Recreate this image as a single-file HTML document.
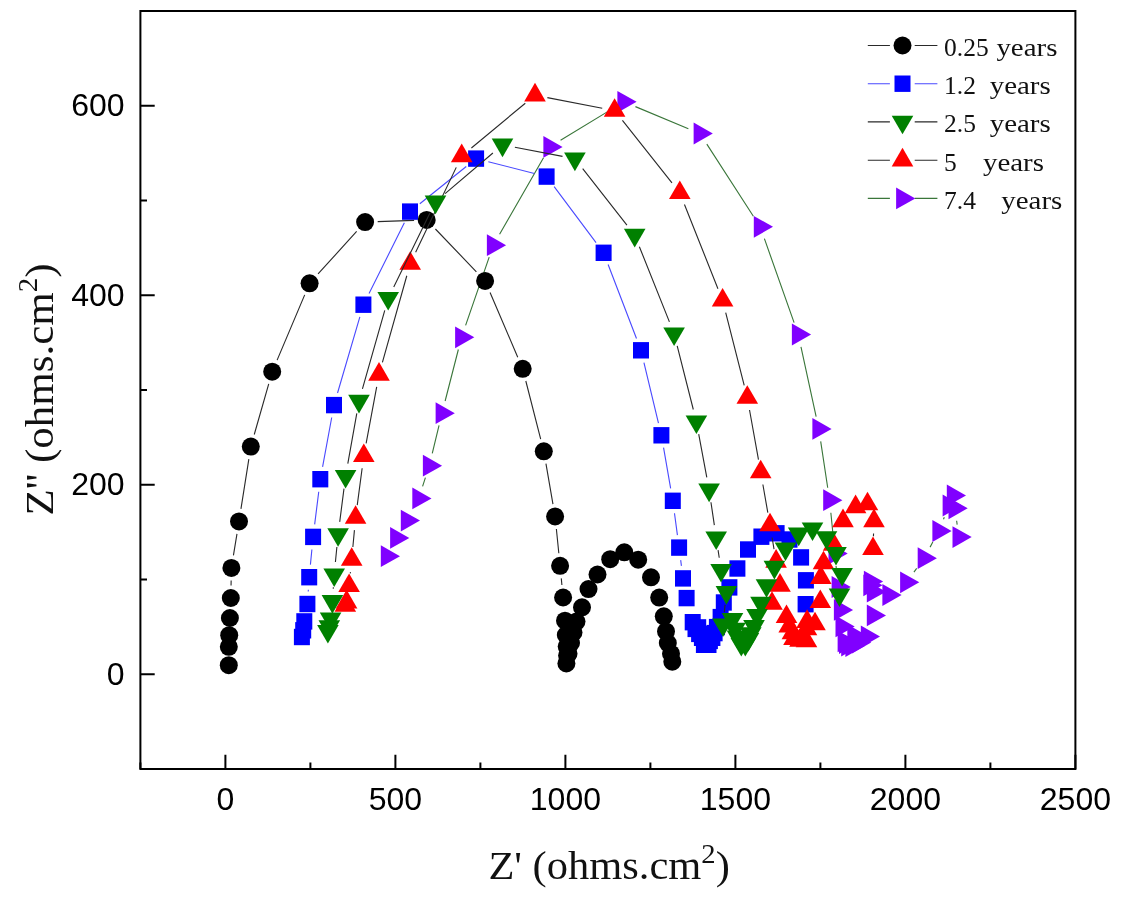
<!DOCTYPE html>
<html lang="en">
<head>
<meta charset="utf-8">
<title>Nyquist plot</title>
<style>
html,body{margin:0;padding:0;background:#fff;}
body{width:1126px;height:898px;overflow:hidden;}
svg{display:block;will-change:transform;}
.tk{font-family:"Liberation Sans",Arial,sans-serif;font-size:32px;fill:#000;}
.lg{font-family:"Liberation Serif","DejaVu Serif",serif;font-size:25.5px;fill:#111;}
.al{font-family:"Liberation Serif","DejaVu Serif",serif;font-size:40px;fill:#111;}
</style>
</head>
<body>
<svg width="1126" height="898" viewBox="0 0 1126 898">
<rect width="1126" height="898" fill="#fff"/>
<path fill="none" stroke-width="1.12" stroke="#3a763a" d="M422.59 486.41L425.41 477.69M432.26 453.45L439.04 425.45M445.14 401L458.36 349.5M465.61 325.39L489.19 257.11M499.58 234.28L543.52 157.82M560.56 140.34L613.04 108.36M635.43 106.64L688.37 128.66M706.83 144.09L753.37 216.21M764.4 238.68L794.1 322.62M800.97 346.81L816.13 416.59M820.69 441.36L827.71 487.74M830.85 512.74L833.65 540.96M836.06 566.05L836.84 574.45M913.93 572.12L916.67 568.38M930.09 547.12L932.81 542.08M943.48 519.3L944.32 517.2M956.63 520.78L957.17 524.62"/>
<g fill="#8000ff">
<polygon points="380.8,545.3 380.8,567.1 400,556.2"/><polygon points="390.1,527 390.1,548.8 409.3,537.9"/><polygon points="400.8,509.7 400.8,531.5 420,520.6"/><polygon points="412.3,487.5 412.3,509.3 431.5,498.4"/><polygon points="422.9,454.8 422.9,476.6 442.1,465.7"/><polygon points="435.6,402.3 435.6,424.1 454.8,413.2"/><polygon points="455.1,326.4 455.1,348.2 474.3,337.3"/><polygon points="486.9,234.3 486.9,256.1 506.1,245.2"/><polygon points="543.4,136 543.4,157.8 562.6,146.9"/><polygon points="617.4,90.9 617.4,112.7 636.6,101.8"/><polygon points="693.6,122.6 693.6,144.4 712.8,133.5"/><polygon points="753.8,215.9 753.8,237.7 773,226.8"/><polygon points="791.9,323.6 791.9,345.4 811.1,334.5"/><polygon points="812.4,418 812.4,439.8 831.6,428.9"/><polygon points="823.2,489.3 823.2,511.1 842.4,500.2"/><polygon points="828.5,542.6 828.5,564.4 847.7,553.5"/><polygon points="831.6,576.1 831.6,597.9 850.8,587"/><polygon points="833.9,599 833.9,620.8 853.1,609.9"/><polygon points="835.5,615.5 835.5,637.3 854.7,626.4"/><polygon points="837.6,630.5 837.6,652.3 856.8,641.4"/><polygon points="839,632.2 839,654 858.2,643.1"/><polygon points="841.2,634.6 841.2,656.4 860.4,645.5"/><polygon points="845.4,635.2 845.4,657 864.6,646.1"/><polygon points="847.3,624.3 847.3,646.1 866.5,635.2"/><polygon points="852,631.6 852,653.4 871.2,642.5"/><polygon points="860.8,625.6 860.8,647.4 880,636.5"/><polygon points="866.8,604.5 866.8,626.3 886,615.4"/><polygon points="866.8,580.8 866.8,602.6 886,591.7"/><polygon points="863.3,574.4 863.3,596.2 882.5,585.3"/><polygon points="863.9,570.7 863.9,592.5 883.1,581.6"/><polygon points="882.4,584.1 882.4,605.9 901.6,595"/><polygon points="900.1,571.4 900.1,593.2 919.3,582.3"/><polygon points="917.7,547.3 917.7,569.1 936.9,558.2"/><polygon points="932.4,520.1 932.4,541.9 951.6,531"/><polygon points="942.6,494.6 942.6,516.4 961.8,505.5"/><polygon points="946.8,484.5 946.8,506.3 966,495.4"/><polygon points="948.5,497.4 948.5,519.2 967.7,508.3"/><polygon points="952.5,526.2 952.5,548 971.7,537.1"/>
</g>
<path fill="none" stroke-width="1.12" stroke="#2a2a2a" d="M231.05 585.4L231.15 580.5M233.43 555.46L236.97 533.84M240.96 508.95L248.84 459.05M254.26 434.48L268.74 383.82M277.11 360.1L304.69 294.9M318.06 273.97L356.64 231.43M377.69 221.65L414.11 220.35M435.41 229L476.39 271.8M490.06 292.48L517.74 357.22M525.82 381.01L540.68 439.09M545.95 463.71L552.95 504.09M556.37 529.04L558.83 553.26M561.29 578.34L561.91 584.96"/>
<g fill="#000000">
<circle cx="228.8" cy="665.2" r="9"/><circle cx="228.8" cy="646.8" r="9"/><circle cx="229.2" cy="635.2" r="9"/><circle cx="229.9" cy="618" r="9"/><circle cx="230.8" cy="598" r="9"/><circle cx="231.4" cy="567.9" r="9"/><circle cx="239" cy="521.4" r="9"/><circle cx="250.8" cy="446.6" r="9"/><circle cx="272.2" cy="371.7" r="9"/><circle cx="309.6" cy="283.3" r="9"/><circle cx="365.1" cy="222.1" r="9"/><circle cx="426.7" cy="219.9" r="9"/><circle cx="485.1" cy="280.9" r="9"/><circle cx="522.7" cy="368.8" r="9"/><circle cx="543.8" cy="451.3" r="9"/><circle cx="555.1" cy="516.5" r="9"/><circle cx="560.1" cy="565.8" r="9"/><circle cx="563.1" cy="597.5" r="9"/><circle cx="565" cy="620.7" r="9"/><circle cx="565.8" cy="635" r="9"/><circle cx="566.7" cy="646.6" r="9"/><circle cx="567.1" cy="655.5" r="9"/><circle cx="566.4" cy="663.5" r="9"/><circle cx="568.5" cy="653.7" r="9"/><circle cx="571" cy="643" r="9"/><circle cx="573.5" cy="632.5" r="9"/><circle cx="576.5" cy="621.6" r="9"/><circle cx="582" cy="607.3" r="9"/><circle cx="588.5" cy="589.1" r="9"/><circle cx="597.5" cy="574.5" r="9"/><circle cx="610.2" cy="559.2" r="9"/><circle cx="624.3" cy="552.3" r="9"/><circle cx="638.2" cy="559.7" r="9"/><circle cx="651" cy="577.3" r="9"/><circle cx="659.2" cy="597.6" r="9"/><circle cx="663.8" cy="616.3" r="9"/><circle cx="666" cy="631.4" r="9"/><circle cx="667.8" cy="643" r="9"/><circle cx="671" cy="653.7" r="9"/><circle cx="672.3" cy="661.7" r="9"/>
</g>
<path fill="none" stroke-width="1.12" stroke="#4a4aff" d="M308.24 591.43L308.36 589.77M310.41 564.66L311.89 549.44M314.66 524.4L318.74 491.7M322.59 466.81L331.71 417.49M337.54 393.01L359.86 316.79M369.04 293.43L404.36 222.87M419.83 203.72L466.27 166.48M488.31 161.72L534.39 173.48M554.15 186.69L596.05 242.71M608.11 264.56L636.49 338.54M643.94 362.55L658.46 423.05M663.56 447.71L670.64 488.39M674.48 513.29L677.42 535.11M680.68 560.1L681.42 565.9"/>
<g fill="#0000ff">
<rect x="293.9" y="628.8" width="16" height="16.4"/><rect x="295.2" y="622.1" width="16" height="16.4"/><rect x="296.3" y="613.2" width="16" height="16.4"/><rect x="299.4" y="595.8" width="16" height="16.4"/><rect x="301.2" y="569" width="16" height="16.4"/><rect x="305.1" y="528.7" width="16" height="16.4"/><rect x="312.3" y="471" width="16" height="16.4"/><rect x="326" y="396.9" width="16" height="16.4"/><rect x="355.4" y="296.5" width="16" height="16.4"/><rect x="402" y="203.4" width="16" height="16.4"/><rect x="468.1" y="150.4" width="16" height="16.4"/><rect x="538.6" y="168.4" width="16" height="16.4"/><rect x="595.6" y="244.6" width="16" height="16.4"/><rect x="633" y="342.1" width="16" height="16.4"/><rect x="653.4" y="427.1" width="16" height="16.4"/><rect x="664.8" y="492.6" width="16" height="16.4"/><rect x="671.1" y="539.4" width="16" height="16.4"/><rect x="675" y="570.2" width="16" height="16.4"/><rect x="678.6" y="589.9" width="16" height="16.4"/><rect x="684.7" y="614" width="16" height="16.4"/><rect x="687.5" y="620.7" width="16" height="16.4"/><rect x="690.2" y="619.2" width="16" height="16.4"/><rect x="691.1" y="625.7" width="16" height="16.4"/><rect x="693.9" y="629.6" width="16" height="16.4"/><rect x="695.9" y="636.6" width="16" height="16.4"/><rect x="700.5" y="636.6" width="16" height="16.4"/><rect x="701.9" y="632.7" width="16" height="16.4"/><rect x="704.4" y="629.6" width="16" height="16.4"/><rect x="706.6" y="624.9" width="16" height="16.4"/><rect x="708.9" y="618.9" width="16" height="16.4"/><rect x="712.6" y="608.9" width="16" height="16.4"/><rect x="715.8" y="594.3" width="16" height="16.4"/><rect x="721.4" y="579.2" width="16" height="16.4"/><rect x="729.4" y="560.3" width="16" height="16.4"/><rect x="740" y="541.3" width="16" height="16.4"/><rect x="753.4" y="528.5" width="16" height="16.4"/><rect x="768.6" y="525.1" width="16" height="16.4"/><rect x="781.5" y="531.3" width="16" height="16.4"/><rect x="793.1" y="549.2" width="16" height="16.4"/><rect x="797.9" y="572.1" width="16" height="16.4"/><rect x="797.6" y="596" width="16" height="16.4"/>
</g>
<path fill="none" stroke-width="1.12" stroke="#2a2a2a" d="M350.34 573.36L350.46 572.14M352.86 547.05L354.44 530.15M357.26 505.11L362.14 468.29M366.12 443.41L376.68 386.89M382.41 362.37L406.79 275.73M415.64 252.23L456.26 167.37M471.4 147.96L525.3 103.24M547.37 97.59L602.23 108.21M622.43 120.47L671.97 182.93M684.46 204.51L717.94 288.69M725.7 312.61L744.2 385.39M749.53 410L758.47 459.7M762.88 484.51L767.82 512.69M772.08 537.53L774.02 549.07M873.55 533.59L873.45 536.21"/>
<g fill="#ff0000">
<polygon points="334.5,611.7 356.1,611.7 345.3,593.1"/><polygon points="335.8,608.4 357.4,608.4 346.6,589.8"/><polygon points="338.3,592.1 359.9,592.1 349.1,573.5"/><polygon points="340.9,565.8 362.5,565.8 351.7,547.2"/><polygon points="344.8,523.8 366.4,523.8 355.6,505.2"/><polygon points="353,462 374.6,462 363.8,443.4"/><polygon points="368.2,380.7 389.8,380.7 379,362.1"/><polygon points="399.4,269.8 421,269.8 410.2,251.2"/><polygon points="450.9,162.2 472.5,162.2 461.7,143.6"/><polygon points="524.2,101.4 545.8,101.4 535,82.8"/><polygon points="603.8,116.8 625.4,116.8 614.6,98.2"/><polygon points="669,199 690.6,199 679.8,180.4"/><polygon points="711.8,306.6 733.4,306.6 722.6,288"/><polygon points="736.5,403.8 758.1,403.8 747.3,385.2"/><polygon points="749.9,478.3 771.5,478.3 760.7,459.7"/><polygon points="759.2,531.3 780.8,531.3 770,512.7"/><polygon points="765.3,567.7 786.9,567.7 776.1,549.1"/><polygon points="769.2,591.7 790.8,591.7 780,573.1"/><polygon points="761.2,609.8 782.8,609.8 772,591.2"/><polygon points="775.7,623.1 797.3,623.1 786.5,604.5"/><polygon points="778.4,632.5 800,632.5 789.2,613.9"/><polygon points="781.6,639.3 803.2,639.3 792.4,620.7"/><polygon points="783.2,644.9 804.8,644.9 794,626.3"/><polygon points="789.2,646.8 810.8,646.8 800,628.2"/><polygon points="795.7,647.3 817.3,647.3 806.5,628.7"/><polygon points="795.7,635.3 817.3,635.3 806.5,616.7"/><polygon points="796.3,627.9 817.9,627.9 807.1,609.3"/><polygon points="804.2,630.3 825.8,630.3 815,611.7"/><polygon points="809.5,608 831.1,608 820.3,589.4"/><polygon points="810,583.9 831.6,583.9 820.8,565.3"/><polygon points="812.7,569.3 834.3,569.3 823.5,550.7"/><polygon points="822.8,550.8 844.4,550.8 833.6,532.2"/><polygon points="832.2,527.2 853.8,527.2 843,508.6"/><polygon points="844.8,513.2 866.4,513.2 855.6,494.6"/><polygon points="856.7,510.3 878.3,510.3 867.5,491.7"/><polygon points="863.2,527.2 884.8,527.2 874,508.6"/><polygon points="862.2,555 883.8,555 873,536.4"/>
</g>
<path fill="none" stroke-width="1.12" stroke="#2a2a2a" d="M333.25 588.73L333.35 587.17M335.42 562.06L336.88 546.94M339.71 521.9L343.99 488.6M347.81 463.7L356.79 413.4M362.44 388.88L384.76 310.32M393.75 286.89L429.95 213.11M445.1 193.64L492.9 152.96M514.87 147.19L562.53 156.41M582.68 168.71L626.92 225.09M639.38 246.7L669.42 321.9M677.19 345.81L693.31 409.49M698.71 434.09L706.79 477.41M710.95 502.26L714.35 525.14M718.07 550.06L719.23 557.74M725.08 604.83L724.32 612.17"/>
<g fill="#008000">
<polygon points="317.1,625 338.7,625 327.9,643.6"/><polygon points="318.5,620.3 340.1,620.3 329.3,638.9"/><polygon points="319.8,612.5 341.4,612.5 330.6,631.1"/><polygon points="321.6,595.1 343.2,595.1 332.4,613.7"/><polygon points="323.4,568.4 345,568.4 334.2,587"/><polygon points="327.3,528.2 348.9,528.2 338.1,546.8"/><polygon points="334.8,469.9 356.4,469.9 345.6,488.5"/><polygon points="348.2,394.8 369.8,394.8 359,413.4"/><polygon points="377.4,292 399,292 388.2,310.6"/><polygon points="424.7,195.6 446.3,195.6 435.5,214.2"/><polygon points="491.7,138.6 513.3,138.6 502.5,157.2"/><polygon points="564.1,152.6 585.7,152.6 574.9,171.2"/><polygon points="623.9,228.8 645.5,228.8 634.7,247.4"/><polygon points="663.3,327.4 684.9,327.4 674.1,346"/><polygon points="685.6,415.5 707.2,415.5 696.4,434.1"/><polygon points="698.3,483.6 719.9,483.6 709.1,502.2"/><polygon points="705.4,531.4 727,531.4 716.2,550"/><polygon points="710.3,564 731.9,564 721.1,582.6"/><polygon points="715.6,586.1 737.2,586.1 726.4,604.7"/><polygon points="712.2,618.5 733.8,618.5 723,637.1"/><polygon points="721.7,613.1 743.3,613.1 732.5,631.7"/><polygon points="724.2,622.7 745.8,622.7 735,641.3"/><polygon points="726.7,630.5 748.3,630.5 737.5,649.1"/><polygon points="730.5,637.9 752.1,637.9 741.3,656.5"/><polygon points="734.5,637.9 756.1,637.9 745.3,656.5"/><polygon points="737.6,632.9 759.2,632.9 748.4,651.5"/><polygon points="740,627.3 761.6,627.3 750.8,645.9"/><polygon points="743.2,620.1 764.8,620.1 754,638.7"/><polygon points="746.2,608.9 767.8,608.9 757,627.5"/><polygon points="750.2,596.8 771.8,596.8 761,615.4"/><polygon points="755.7,579.2 777.3,579.2 766.5,597.8"/><polygon points="763.6,560.8 785.2,560.8 774.4,579.4"/><polygon points="774.7,542.5 796.3,542.5 785.5,561.1"/><polygon points="787.9,527.6 809.5,527.6 798.7,546.2"/><polygon points="801.7,522.4 823.3,522.4 812.5,541"/><polygon points="815.7,531.2 837.3,531.2 826.5,549.8"/><polygon points="825.2,546.9 846.8,546.9 836,565.5"/><polygon points="831.3,568 852.9,568 842.1,586.6"/><polygon points="828.7,588.4 850.3,588.4 839.5,607"/>
</g>
<rect x="140.4" y="11" width="935" height="758" fill="none" stroke="#000" stroke-width="2"/>
<path d="M140.4 769v-6.6M225.4 769v-14.3M310.4 769v-6.6M395.4 769v-14.3M480.4 769v-6.6M565.4 769v-14.3M650.4 769v-6.6M735.4 769v-14.3M820.4 769v-6.6M905.4 769v-14.3M990.4 769v-6.6M1075.4 769v-14.3M140.4 769h6.6M140.4 674.25h14.3M140.4 579.5h6.6M140.4 484.75h14.3M140.4 390h6.6M140.4 295.25h14.3M140.4 200.5h6.6M140.4 105.75h14.3M140.4 11h6.6" stroke="#000" stroke-width="2" fill="none"/>
<g class="tk" text-anchor="middle">
<text x="225.4" y="810">0</text>
<text x="395.4" y="810">500</text>
<text x="565.4" y="810">1000</text>
<text x="735.4" y="810">1500</text>
<text x="905.4" y="810">2000</text>
<text x="1075.4" y="810">2500</text>
</g>
<g class="tk" text-anchor="end">
<text x="124.6" y="684.85">0</text>
<text x="124.6" y="495.35">200</text>
<text x="124.6" y="305.85">400</text>
<text x="124.6" y="116.35">600</text>
</g>
<path d="M867.8 45.5H889.9M914.7 45.5H937.4" stroke="#2a2a2a" stroke-width="1.12" fill="none"/>
<g fill="#000000"><circle cx="902.5" cy="45.5" r="9"/></g>
<text class="lg" x="944" y="55.9">0.25</text><text class="lg" x="996.4" y="55.9" textLength="61" lengthAdjust="spacingAndGlyphs">years</text>
<path d="M867.8 83.7H889.9M914.7 83.7H937.4" stroke="#4a4aff" stroke-width="1.12" fill="none"/>
<g fill="#0000ff"><rect x="894.5" y="75.5" width="16" height="16.4"/></g>
<text class="lg" x="944" y="94.1">1.2</text><text class="lg" x="989.7" y="94.1" textLength="61" lengthAdjust="spacingAndGlyphs">years</text>
<path d="M867.8 121.9H889.9M914.7 121.9H937.4" stroke="#2a2a2a" stroke-width="1.12" fill="none"/>
<g fill="#008000"><polygon points="891.7,115.7 913.3,115.7 902.5,134.3"/></g>
<text class="lg" x="944" y="132.3">2.5</text><text class="lg" x="989.7" y="132.3" textLength="61" lengthAdjust="spacingAndGlyphs">years</text>
<path d="M867.8 160.2H889.9M914.7 160.2H937.4" stroke="#2a2a2a" stroke-width="1.12" fill="none"/>
<g fill="#ff0000"><polygon points="891.7,166.4 913.3,166.4 902.5,147.8"/></g>
<text class="lg" x="944" y="170.6">5</text><text class="lg" x="983" y="170.6" textLength="61" lengthAdjust="spacingAndGlyphs">years</text>
<path d="M867.8 198.4H889.9M914.7 198.4H937.4" stroke="#3a763a" stroke-width="1.12" fill="none"/>
<g fill="#8000ff"><polygon points="896.1,187.5 896.1,209.3 915.3,198.4"/></g>
<text class="lg" x="944" y="208.8">7.4</text><text class="lg" x="1001.3" y="208.8" textLength="61" lengthAdjust="spacingAndGlyphs">years</text>
<text class="al" id="xl" transform="translate(488.4 879.3) scale(1.062 1)" x="0" y="0">Z' (ohms.cm<tspan font-size="27" dy="-16">2</tspan><tspan dy="16">)</tspan></text>
<text class="al" id="yl" transform="translate(53 515.6) rotate(-90) scale(1.076 1)" x="0" y="0">Z'' (ohms.cm<tspan font-size="27" dy="-16">2</tspan><tspan dy="16">)</tspan></text>
</svg>
</body>
</html>
